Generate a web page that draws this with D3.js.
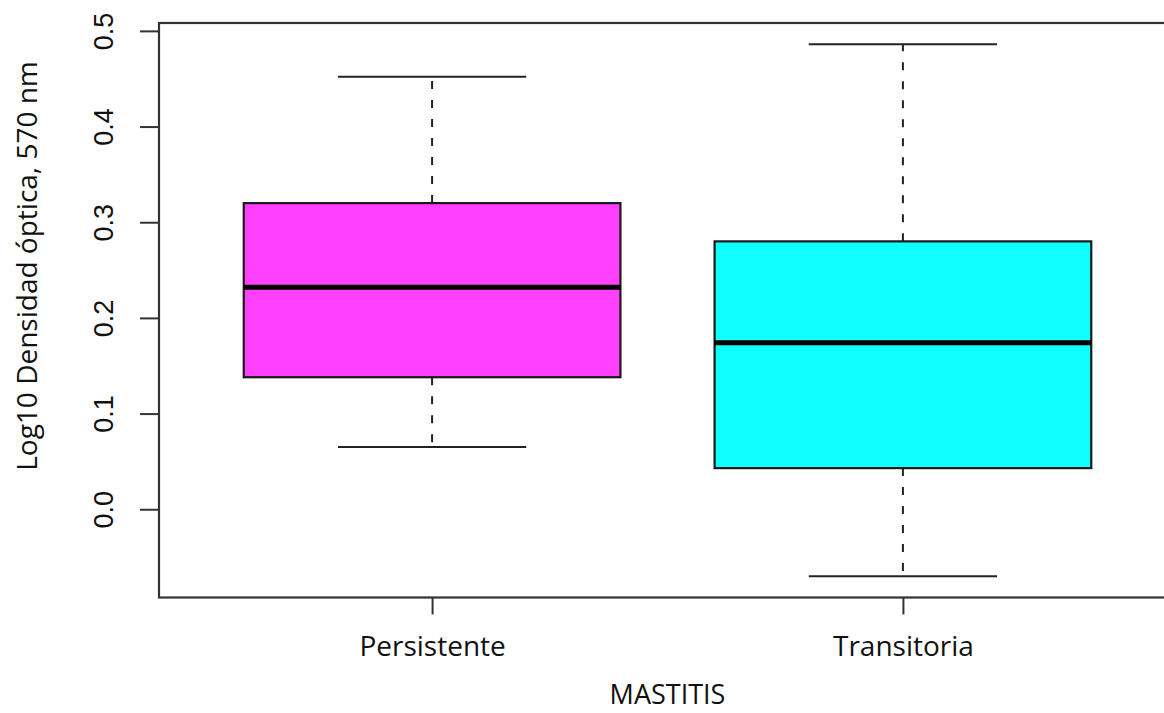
<!DOCTYPE html>
<html>
<head>
<meta charset="utf-8">
<script src="https://cdn.jsdelivr.net/npm/d3@7"></script>
<style>
  html, body { margin: 0; padding: 0; background: #fff; }
  svg { display: block; }
</style>
</head>
<body>
<svg id="chart" width="1164" height="713"></svg>
<script>
// Groups and five-number summaries (log10 optical density at 570 nm)
const categories = ["Persistente", "Transitoria"];
const whiskerLow  = [0.065, -0.070];
const q1          = [0.138, 0.043];
const median      = [0.232, 0.174];
const q3          = [0.320, 0.280];
const whiskerHigh = [0.452, 0.486];
const boxColors   = ["#ff40ff", "#10ffff"];
const yTicks      = [0.0, 0.1, 0.2, 0.3, 0.4, 0.5];

const svg = d3.select("#chart");

const plotLeft = 159, plotRight = 1176, plotTop = 23, plotBottom = 597.5;
const labelFont = "'Open Sans', 'Noto Sans', sans-serif";

// Numeric group positions 1..n, with the usual 4% padding around [0.5, n+0.5]
const n = categories.length;
const xs = d3.scaleLinear().domain([0.42, n + 0.58]).range([plotLeft, plotRight]);

const allVals = whiskerLow.concat(whiskerHigh);
const yMin = d3.min(allVals), yMax = d3.max(allVals);
const pad = (yMax - yMin) * 0.04;
const y = d3.scaleLinear().domain([yMin - pad, yMax + pad]).range([plotBottom, plotTop]);

const boxHalf = 0.4, capHalf = 0.2;
const groups = categories.map((c, i) => ({
  name: c, pos: i + 1, lo: whiskerLow[i], q1: q1[i], med: median[i],
  q3: q3[i], hi: whiskerHigh[i], fill: boxColors[i]
}));

const g = svg.append("g");

// Whiskers (dashed), drawn from the box edges out to the extremes
[["q3", "hi"], ["q1", "lo"]].forEach(([from, to]) => {
  g.selectAll("line.wh-" + to).data(groups).join("line")
    .attr("x1", d => xs(d.pos)).attr("x2", d => xs(d.pos))
    .attr("y1", d => y(d[from])).attr("y2", d => y(d[to]))
    .attr("stroke", "#222").attr("stroke-width", 2).attr("stroke-dasharray", "8,11");
});

// Whisker caps
["hi", "lo"].forEach(k => {
  g.selectAll("line.cap-" + k).data(groups).join("line")
    .attr("x1", d => xs(d.pos - capHalf)).attr("x2", d => xs(d.pos + capHalf))
    .attr("y1", d => y(d[k])).attr("y2", d => y(d[k]))
    .attr("stroke", "#222").attr("stroke-width", 2);
});

// Boxes
g.selectAll("rect.box").data(groups).join("rect")
  .attr("x", d => xs(d.pos - boxHalf))
  .attr("width", d => xs(d.pos + boxHalf) - xs(d.pos - boxHalf))
  .attr("y", d => y(d.q3))
  .attr("height", d => y(d.q1) - y(d.q3))
  .attr("fill", d => d.fill)
  .attr("stroke", "#1a1a1a").attr("stroke-width", 2.2);

// Medians
g.selectAll("line.med").data(groups).join("line")
  .attr("x1", d => xs(d.pos - boxHalf)).attr("x2", d => xs(d.pos + boxHalf))
  .attr("y1", d => y(d.med)).attr("y2", d => y(d.med))
  .attr("stroke", "#000").attr("stroke-width", 5);

// Plot frame
svg.append("rect")
  .attr("x", plotLeft).attr("y", plotTop)
  .attr("width", plotRight - plotLeft).attr("height", plotBottom - plotTop)
  .attr("fill", "none").attr("stroke", "#333").attr("stroke-width", 2.2);

// Y axis with rotated tick labels
const yAxis = svg.append("g")
  .attr("transform", `translate(${plotLeft},0)`)
  .call(d3.axisLeft(y).tickValues(yTicks).tickFormat(d3.format(".1f")).tickSize(19));
yAxis.select(".domain").remove();
yAxis.selectAll(".tick line").attr("stroke", "#333").attr("stroke-width", 2);
yAxis.selectAll(".tick text")
  .attr("transform", "rotate(-90)")
  .attr("x", 0).attr("y", -46).attr("dy", null)
  .attr("text-anchor", "middle")
  .attr("fill", "#111")
  .style("font-family", "'Liberation Sans', Arial, sans-serif")
  .style("font-size", "27px");

// X axis
const xAxis = svg.append("g")
  .attr("transform", `translate(0,${plotBottom})`)
  .call(d3.axisBottom(xs).tickValues(groups.map(d => d.pos))
        .tickFormat((d, i) => categories[i]).tickSize(17).tickPadding(22));
xAxis.select(".domain").remove();
xAxis.selectAll(".tick line").attr("stroke", "#333").attr("stroke-width", 2);
xAxis.selectAll(".tick text")
  .attr("fill", "#111")
  .style("font-family", labelFont)
  .style("font-size", "28px");

// Axis titles
svg.append("text")
  .attr("x", (plotLeft + plotRight) / 2).attr("y", 704)
  .attr("text-anchor", "middle")
  .attr("fill", "#111")
  .style("font-family", labelFont)
  .style("font-size", "27px")
  .text("MASTITIS");

svg.append("text")
  .attr("transform", "translate(37,266) rotate(-90)")
  .attr("text-anchor", "middle")
  .attr("fill", "#111")
  .style("font-family", labelFont)
  .style("font-size", "28px")
  .text("Log10 Densidad óptica, 570 nm");
</script>
</body>
</html>
